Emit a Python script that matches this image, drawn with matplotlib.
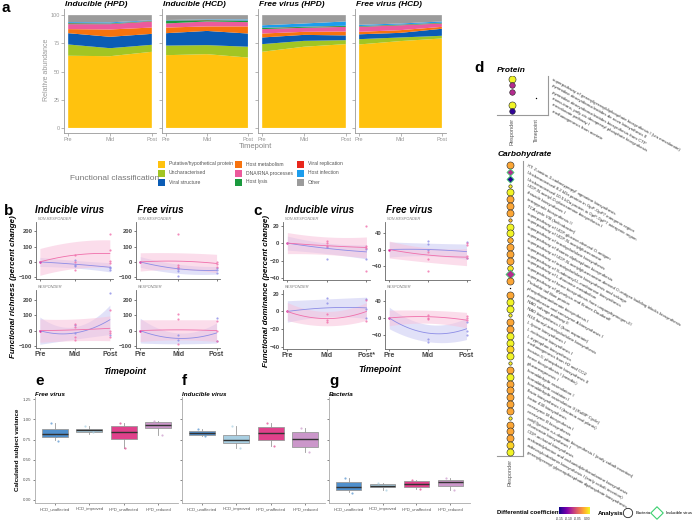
import numpy as np
import matplotlib

matplotlib.use("Agg")
import matplotlib.pyplot as plt
from matplotlib import transforms

plt.rcParams["font.family"] = ["Liberation Sans", "DejaVu Sans"]

W, H = 696, 520

# ---------------------------------------------------------------- data: panel a
timepoints = ["Pre", "Mid", "Post"]
a_categories = ["Putative/hypothetical protein", "Uncharacterised", "Viral structure",
                "Host metabolism", "DNA/RNA processes", "Host lysis",
                "Viral replication", "Host infection", "Other"]
a_colors = ["#FFC20E", "#A2C523", "#0B5CB5", "#F7730E", "#EC5A9C", "#1A9A3E",
            "#E8261C", "#1C9DED", "#9B9B9B"]
a_titles = ["Inducible (HPD)", "Inducible (HCD)", "Free virus (HPD)", "Free virus (HCD)"]
a_ind_hpd = [[64.0, 63.6, 67.5], [10.0, 7.1, 6.2], [10.0, 10.1, 9.7], [3.6, 6.5, 5.6],
             [4.4, 4.7, 5.4], [0.8, 0.5, 0.4], [0.2, 0.2, 0.2], [0.8, 0.9, 0.5],
             [6.2, 6.4, 4.5]]
a_ind_hcd = [[64.5, 65.4, 62.4], [8.5, 8.0, 9.6], [11.0, 12.6, 11.7], [5.0, 4.0, 6.3],
             [3.6, 4.4, 3.8], [2.4, 1.1, 1.2], [0.2, 0.2, 0.2], [0.5, 0.5, 1.0],
             [4.3, 3.8, 3.8]]
a_free_hpd = [[67.5, 72.0, 74.3], [6.8, 5.2, 3.5], [5.9, 5.3, 4.2], [3.5, 2.7, 3.5],
              [3.9, 3.6, 4.1], [1.0, 0.8, 0.8], [0.2, 0.2, 0.2], [2.2, 2.8, 3.8],
              [9.0, 7.4, 5.6]]
a_free_hcd = [[74.0, 77.0, 79.3], [4.7, 3.2, 2.4], [4.3, 4.1, 6.2], [2.2, 2.4, 1.7],
              [4.4, 4.3, 3.0], [0.5, 0.5, 0.5], [0.2, 0.2, 0.2], [1.1, 0.9, 1.1],
              [8.6, 7.4, 5.6]]

# ---------------------------------------------------------------- data: panels b, c
# subplot order: inducible non-responder, free non-responder, inducible responder, free responder
facet_names = ["NON-RESPONDER", "NON-RESPONDER", "RESPONDER", "RESPONDER"]
rich_pink_fit = [[0, 45, 55], [0, 5, -10], [0, 5, 15], [0, 5, 0]]
rich_pink_band = [[88, 88, 90], [60, 55, 60], [75, 70, 80], [70, 65, 70]]
rich_blue_fit = [[0, -15, -35], [0, -45, -55], [0, -15, 70], [0, -50, -15]]
rich_blue_band = [[30, 25, 30], [35, 30, 25], [88, 40, 95], [80, 35, 65]]
rich_pink_mid = [[45, 0, -55], [180, -20, -30, -40], [40, 25, -40, -60], [105, 75, -85]]
rich_pink_post = [[185, 80, 5, -10], [0, -30, -15], [130, 0, -15, -40], [60, -5, -70]]
rich_blue_mid = [[10, -20, -25], [-60, -90, -45], [35, -15], [-30, -60]]
rich_blue_post = [[-30, -55, -40], [-40, -70, -50], [240, -30], [80, -70]]

dom_pink_fit = [[0, -3, -5], [0, -13, -18], [0, -8, 0], [0, 3, -5]]
dom_pink_band = [[12, 10, 12], [20, 17, 20], [10, 8, 10], [18, 15, 18]]
dom_blue_fit = [[0, -6, -10], [0, 0, -5], [0, 4, 4], [0, -35, -25]]
dom_blue_band = [[8, 6, 8], [18, 15, 18], [12, 10, 12], [25, 20, 25]]
dom_pink_mid = [[2, 0, -3], [-5, -22, -50], [-3, -10, -12], [8, 0, -3]]
dom_pink_post = [[19, -3, -6, -32], [15, 10, -15, -20], [13, -11], [5, 0, -5]]
dom_blue_mid = [[-5, -18], [20, 12, -2], [15, 9], [-48, -55]]
dom_blue_post = [[-7, -18], [18, -20], [14, 3, -7], [-10, -30, -40]]

# ---------------------------------------------------------------- data: panels e, f, g
groups = ["HCD_unaffected", "HCD_improved", "HPD_unaffected", "HPD_reduced"]
box_colors = ["#4F8FCC", "#A9CFE2", "#E0418B", "#CB97CA"]
e_med = [0.817, 0.867, 0.846, 0.937]
e_q1 = [0.779, 0.842, 0.758, 0.896]
e_q3 = [0.887, 0.887, 0.917, 0.967]
e_lo = [0.75, 0.825, 0.646, 0.81]
e_hi = [0.958, 0.925, 0.958, 0.98]
e_pts = [[0.958, 0.73, 0.80], [0.925, 0.84], [0.96, 0.78, 0.64], [0.98, 0.81]]
f_med = [0.829, 0.75, 0.833, 0.758]
f_q1 = [0.804, 0.708, 0.75, 0.654]
f_q3 = [0.854, 0.81, 0.904, 0.846]
f_lo = [0.79, 0.646, 0.675, 0.596]
f_hi = [0.883, 0.925, 0.958, 0.896]
f_pts = [[0.883, 0.80], [0.925, 0.64], [0.958, 0.67, 0.80], [0.896, 0.60]]
g_med = [0.158, 0.175, 0.196, 0.217]
g_q1 = [0.125, 0.154, 0.154, 0.167]
g_q3 = [0.217, 0.196, 0.229, 0.242]
g_lo = [0.092, 0.125, 0.137, 0.117]
g_hi = [0.27, 0.208, 0.242, 0.27]
g_pts = [[0.27, 0.09], [0.21, 0.125], [0.242, 0.137], [0.27, 0.117]]
jitter = [-0.12, 0.1, 0.03]

# ---------------------------------------------------------------- data: panel d
prot_labels = [
    "superpathway of geranylgeranyldiphosphate biosynthesis I (via mevalonate)",
    "pyrimidine deoxyribonucleotides de novo biosynthesis II",
    "pyrimidine deoxyribonucleotides biosynthesis from CTP",
    "mono-trans, poly-cis decaprenyl phosphate biosynthesis",
    "mevalonate pathway I",
    "methanogenesis from acetate",
]
prot_coef = [-0.002, -0.095, -0.095, np.nan, -0.002, -0.15]
prot_weight = [3, 2, 2, -1, 3, 2]
prot_time_weight = [-1, -1, -1, 0, -1, -1]

carb_labels = [
    "XT: 2-amino-3-carboxypropyl' agmatine biosynthesis",
    "Uncharacterised 8.2 kDa protein in GpP-GpP7 intergenic region",
    "Uncharacterised 10.5 kDa protein in GpP-GpP7 intergenic region",
    "UDP-N-acetyl-D-glucosamine biosynthesis I",
    "thiazole biosynthesis I",
    "tetrapyrrole biosynthesis II",
    "TCA cycle VIII (helicobacter)",
    "superpathway of UDP-glucose-derived O-antigen",
    "superpathway of UDP-N-acetylglucosamine",
    "superpathway of tetrahydrofolate biosynthesis",
    "superpathway of thiamin diphosphate biosynthesis",
    "superpathway of UDP-N-acetylglucosamine-derived O-antigen building blocks biosynthesis",
    "superpathway of tetrahydrofolate biosynthesis and salvage",
    "superpathway of S-adenosyl-L-methionine biosynthesis",
    "superpathway of L-threonine metabolism",
    "superpathway of heme biosynthesis from uroporphyrinogen-III",
    "superpathway of glycolysis and Entner-Doudoroff",
    "Probable tail fiber protein",
    "phosphopantothenate biosynthesis I",
    "pantothenate and coenzyme A biosynthesis I",
    "NAD salvage pathway II",
    "NAD biosynthesis I (from aspartate)",
    "N10-formyl-tetrahydrofolate biosynthesis",
    "L-lysine biosynthesis I",
    "L-isoleucine biosynthesis I",
    "L-tryptophan biosynthesis",
    "methanogenesis from H2 and CO2",
    "inosine-5'-phosphate biosynthesis II",
    "heme biosynthesis I (aerobic)",
    "gluconeogenesis I",
    "formaldehyde assimilation I",
    "formaldehyde oxidation I",
    "formaldehyde assimilation II (RuMP Cycle)",
    "flavin biosynthesis I (bacteria and plants)",
    "factor 430 biosynthesis",
    "coenzyme M biosynthesis I",
    "coenzyme B biosynthesis",
    "cob(II)yrinate a,c-diamide biosynthesis I (early cobalt insertion)",
    "chorismate biosynthesis I",
    "CDP-archaeol biosynthesis",
    "archaetidylserine and archaetidylethanolamine biosynthesis",
    "adenosylcobalamin biosynthesis I (early cobalt insertion)",
    "geranylgeranyl glycerophosphate diphosphate biosynthesis",
]
carb_coef = [-0.032, -0.095, -0.155, -0.005, -0.002, -0.032, -0.032, -0.032, -0.025, -0.002,
             -0.002, -0.030, -0.032, -0.032, -0.032, -0.008, -0.095, -0.032, np.nan, -0.032,
             -0.002, -0.002, -0.005, -0.032, -0.032, -0.002, -0.002, -0.015, -0.002, -0.005,
             -0.032, -0.002, -0.032, -0.032, -0.032, -0.032, -0.032, -0.005, -0.032, -0.032,
             -0.032, -0.015, -0.002]
carb_weight = [3, 2, 2, 1, 3, 3, 3, 3, 1, 3, 3, 2, 3, 3, 3, 2, 3, 3, 0, 3, 3, 3, 1, 3, 3, 3,
               3, 3, 3, 1, 3, 3, 3, 3, 3, 3, 3, 1, 3, 3, 3, 3, 3]
carb_analysis = ["Bacteria"] * 43
for i in (1, 2, 16):
    carb_analysis[i] = "Inducible virus"

# ---------------------------------------------------------------- figure
fig = plt.figure(figsize=(W / 100, H / 100), dpi=100)
ov = fig.add_axes([0, 0, 1, 1])
ov.set_xlim(0, W)
ov.set_ylim(H, 0)
ov.axis("off")
ov.set_zorder(10)


def add_ax(x0, y0, x1, y1):
    return fig.add_axes([x0 / W, 1 - y1 / H, (x1 - x0) / W, (y1 - y0) / H])


def clean(ax, color="#888", lw=0.6):
    for s in ("top", "right"):
        ax.spines[s].set_visible(False)
    for s in ("left", "bottom"):
        ax.spines[s].set_color(color)
        ax.spines[s].set_linewidth(lw)


def letter(x, y, s):
    ov.text(x, y, s, fontsize=11, weight="bold", ha="left", va="center")


# ---- panel a
letter(2, 8, "a")
a_sets = [a_ind_hpd, a_ind_hcd, a_free_hpd, a_free_hcd]
a_x = [(64, 156), (162, 252), (258, 350), (355, 446)]
for i, (rows, (x0, x1)) in enumerate(zip(a_sets, a_x)):
    ax = add_ax(x0, 9.5, x1, 133)
    ax.stackplot(range(3), *rows, colors=a_colors, lw=0)
    ax.set_xlim(-0.1, 2.1)
    ax.set_ylim(-4.5, 105)
    clean(ax, "#999")
    ax.set_xticks(range(3), timepoints)
    ax.set_yticks([0, 25, 50, 75, 100])
    if i:
        ax.set_yticklabels([])
    ax.tick_params(labelsize=4, colors="#999", length=2, width=0.5, pad=1)
    ov.text(x0 + 1, 4, a_titles[i], fontsize=6, weight="bold", style="italic",
            ha="left", va="center")
ov.text(47, 70, "Relative abundance", fontsize=5, color="#999", rotation=90,
        ha="center", va="center")
ov.text(255, 147, "Timepoint", fontsize=5.5, color="#888", ha="center", va="center")

ov.text(70, 178, "Functional classification", fontsize=6, color="#777", ha="left", va="center")
leg_x = [158, 235, 297]
leg_y = [164, 173, 182]
for k, (name, col) in enumerate(zip(a_categories, a_colors)):
    cx, cy = leg_x[k // 3], leg_y[k % 3]
    ov.add_patch(plt.Rectangle((cx, cy - 3.5), 7, 7, color=col, lw=0))
    ov.text(cx + 11, cy, name, fontsize=3.6, color="#555", ha="left", va="center")

# ---- panels b, c
PINK, BLUE = "#F06EAA", "#8C8CE6"
xs = np.linspace(0, 2, 60)


def smooth(vals):
    return np.polyval(np.polyfit([0, 1, 2], vals, 2), xs)


def trend(ax, pf, pb, bf, bb, pm, pp, bm, bp):
    for fit, band, col, fill in ((bf, bb, BLUE, "#C9C9F4"), (pf, pb, PINK, "#F8C2DB")):
        lo = smooth(np.subtract(fit, band))
        hi = smooth(np.add(fit, band))
        ax.fill_between(xs, lo, hi, color=fill, alpha=0.55, lw=0)
        ax.plot(xs, smooth(fit), color=col, lw=0.6)
    ax.scatter([1] * len(bm), bm, s=2.5, color=BLUE, alpha=0.8, lw=0)
    ax.scatter([2] * len(bp), bp, s=2.5, color=BLUE, alpha=0.8, lw=0)
    ax.scatter([1] * len(pm), pm, s=2.5, color=PINK, alpha=0.8, lw=0)
    ax.scatter([2] * len(pp), pp, s=2.5, color=PINK, alpha=0.8, lw=0)
    ax.scatter([0], [0], s=3, color="#E0209A", lw=0)


def trend_panel(boxes, ylims, yticks, data, post_label):
    for k, (x0, y0, x1, y1) in enumerate(boxes):
        ax = add_ax(x0, y0, x1, y1)
        trend(ax, *[d[k] for d in data])
        ax.set_xlim(-0.11, 2.09)
        ax.set_ylim(*ylims[k % 2])
        ax.set_yticks(yticks[k % 2])
        clean(ax, "#666")
        labels = ["Pre", "Mid", post_label[k % 2]] if k >= 2 else ["", "", ""]
        ax.set_xticks(range(3), labels)
        ax.tick_params(axis="y", labelsize=4.2, colors="#444", length=1.5, width=0.5, pad=1)
        ax.tick_params(axis="x", labelsize=5, colors="#444", length=1.5, width=0.5, pad=1)
        for t in ax.get_xticklabels() + ax.get_yticklabels():
            t.set_fontweight("bold")
        ov.text(x0 + 2, y0 - 3.5, facet_names[k], fontsize=2.8, style="italic",
                color="#777", ha="left", va="center")


letter(4, 211, "b")
ov.text(35, 210, "Inducible virus", fontsize=7, weight="bold", style="italic", va="center")
ov.text(137, 210, "Free virus", fontsize=7, weight="bold", style="italic", va="center")
trend_panel([(36, 222, 113, 279), (136, 222, 220, 279), (36, 290, 113, 348), (136, 290, 220, 348)],
            [(-112, 262), (-112, 262)], [[-100, 0, 100, 200], [-100, 0, 100, 200]],
            [rich_pink_fit, rich_pink_band, rich_blue_fit, rich_blue_band,
             rich_pink_mid, rich_pink_post, rich_blue_mid, rich_blue_post],
            ["Post", "Post"])
ov.text(14, 287, "Functional richness (percent change)", fontsize=5.8, weight="bold",
        style="italic", rotation=90, ha="center", va="center")
ov.text(125, 371, "Timepoint", fontsize=6.5, weight="bold", style="italic", ha="center", va="center")

letter(253, 211, "c")
ov.text(285, 210, "Inducible virus", fontsize=7, weight="bold", style="italic", va="center")
ov.text(386, 210, "Free virus", fontsize=7, weight="bold", style="italic", va="center")
trend_panel([(283, 222, 370, 280), (385, 222, 470, 280), (283, 290, 370, 349), (385, 290, 470, 349)],
            [(-42, 24), (-72, 65)], [[-40, -20, 0, 20], [-40, 0, 40]],
            [dom_pink_fit, dom_pink_band, dom_blue_fit, dom_blue_band,
             dom_pink_mid, dom_pink_post, dom_blue_mid, dom_blue_post],
            ["Post*", "Post"])
ov.text(267, 291, "Functional dominance (percent change)", fontsize=5.8, weight="bold",
        style="italic", rotation=90, ha="center", va="center")
ov.text(380, 370, "Timepoint", fontsize=6.5, weight="bold", style="italic", ha="center", va="center")

# ---- panels e, f, g
box_sets = [
    ("e", "Free virus", (35, 178), e_med, e_q1, e_q3, e_lo, e_hi, e_pts),
    ("f", "Inducible virus", (182, 325), f_med, f_q1, f_q3, f_lo, f_hi, f_pts),
    ("g", "Bacteria", (329, 470), g_med, g_q1, g_q3, g_lo, g_hi, g_pts),
]
for i, (lab, title, (x0, x1), med, q1, q3, lo, hi, pts) in enumerate(box_sets):
    ax = add_ax(x0, 397, x1, 503)
    stats = [dict(med=m, q1=a, q3=b, whislo=l, whishi=h)
             for m, a, b, l, h in zip(med, q1, q3, lo, hi)]
    bp = ax.bxp(stats, positions=range(1, 5), widths=0.75, patch_artist=True,
                showfliers=False, showcaps=False,
                boxprops=dict(edgecolor="#999", lw=0.6),
                whiskerprops=dict(color="#999", lw=0.6),
                medianprops=dict(color="#333", lw=1.0))
    for patch, col in zip(bp["boxes"], box_colors):
        patch.set_facecolor(col)
    for g, (vals, col) in enumerate(zip(pts, box_colors)):
        ax.scatter([g + 1 + jitter[j] for j in range(len(vals))], vals, s=2.5,
                   color=col, alpha=0.7, lw=0, zorder=5)
    ax.set_xlim(0.42, 4.58)
    ax.set_ylim(-0.04, 1.28)
    clean(ax, "#aaa")
    ax.set_xticks(range(1, 5), groups)
    ax.set_yticks([0, 0.25, 0.5, 0.75, 1.0, 1.25])
    if i:
        ax.set_yticklabels([])
    else:
        ax.set_yticklabels(["0.00", "0.25", "0.50", "0.75", "1.00", "1.25"])
    ax.tick_params(axis="x", labelsize=3.0, colors="#555", length=1.5, width=0.5, pad=1.5)
    ax.tick_params(axis="y", labelsize=3.2, colors="#555", length=1.5, width=0.5, pad=1)
    letter(x0, 381, lab)
    ov.text(x0, 394, title, fontsize=4.5, weight="bold", style="italic", ha="left", va="center")
ov.text(18, 450, "Calculated subject variance", fontsize=4.5, weight="bold",
        rotation=90, ha="center", va="center")

# ---- panel d
cmap = plt.get_cmap("plasma")
norm = plt.Normalize(-0.16, 0.0)
SIZES = {0: 1.0, 1: 6, 2: 16, 3: 26}


def dot_column(ax, xpos, rows, coef, weight, analysis):
    for r, c, w, an in zip(rows, coef, weight, analysis):
        if w < 0:
            continue
        if w == 0:
            ax.scatter([xpos], [r], s=SIZES[0], color="black", lw=0)
        elif an == "Inducible virus":
            ax.scatter([xpos], [r], s=SIZES[w] * 0.8, marker="D", color=cmap(norm(c)),
                       edgecolors="#3CD070", linewidths=0.6, zorder=3)
        else:
            ax.scatter([xpos], [r], s=SIZES[w], color=cmap(norm(c)),
                       edgecolors="#222", linewidths=0.4, zorder=3)


def path_labels(ax, labels, rows, dx):
    trans = transforms.offset_copy(
        transforms.blended_transform_factory(ax.transAxes, ax.transData),
        fig=fig, x=dx, y=0, units="dots")
    for r, t in zip(rows, labels):
        ax.text(1.0, r, t, transform=trans, fontsize=3.2, color="#333", rotation=-29,
                rotation_mode="anchor", ha="left", va="center", clip_on=False)


def dot_axes(ax):
    for s in ("top", "left"):
        ax.spines[s].set_visible(False)
    for s in ("right", "bottom"):
        ax.spines[s].set_color("#999")
        ax.spines[s].set_linewidth(0.8)
    ax.set_yticks([])
    ax.tick_params(axis="x", labelsize=4, colors="#555", length=0, pad=2, labelrotation=90)


letter(474, 68, "d")
ov.text(497, 70, "Protein", fontsize=6, weight="bold", style="italic", ha="left", va="center")
pax = add_ax(497, 76, 548, 115)
prow = list(range(1, len(prot_labels) + 1))
dot_column(pax, 1, prow, prot_coef, prot_weight, ["Bacteria"] * 6)
dot_column(pax, 2, prow, [0.0] * 6, prot_time_weight, ["Bacteria"] * 6)
pax.set_xlim(0.375, 2.5)
pax.set_ylim(6.62, 0.53)
dot_axes(pax)
pax.set_xticks([1, 2], ["Responder", "Timepoint"])
path_labels(pax, prot_labels, prow, 4)

ov.text(498, 155, "Carbohydrate", fontsize=6, weight="bold", style="italic", ha="left", va="center")
cax = add_ax(497, 161, 523, 456)
crow = list(range(1, len(carb_labels) + 1))
dot_column(cax, 0.5, crow, carb_coef, carb_weight, carb_analysis)
cax.set_xlim(0, 1)
cax.set_ylim(43.6, 0.4)
dot_axes(cax)
cax.set_xticks([0.5], ["Responder"])
path_labels(cax, carb_labels, crow, 4)

# legend for panel d
ov.text(497, 513, "Differential coefficient", fontsize=4.3, weight="bold", ha="left", va="center")
ov.imshow(np.linspace(0, 1, 64)[None, :], cmap=cmap, extent=(559, 590, 514, 507),
          aspect="auto", zorder=5)
ov.set_xlim(0, W)
ov.set_ylim(H, 0)
for v, t in zip([560, 569, 578, 587], ["-0.15", "-0.10", "-0.05", "0.00"]):
    ov.text(v, 518.5, t, fontsize=2.4, ha="center", va="center", color="#333")
ov.text(598, 513, "Analysis", fontsize=4.5, weight="bold", ha="left", va="center")
ov.scatter([628], [513], s=45, facecolors="none", edgecolors="#222", linewidths=0.6)
ov.text(636, 513, "Bacteria", fontsize=3, ha="left", va="center")
ov.scatter([657], [513], s=40, marker="D", facecolors="none", edgecolors="#3CD070", linewidths=0.8)
ov.text(666, 513, "Inducible virus", fontsize=3, ha="left", va="center")

fig.savefig("out.png", dpi=100)
